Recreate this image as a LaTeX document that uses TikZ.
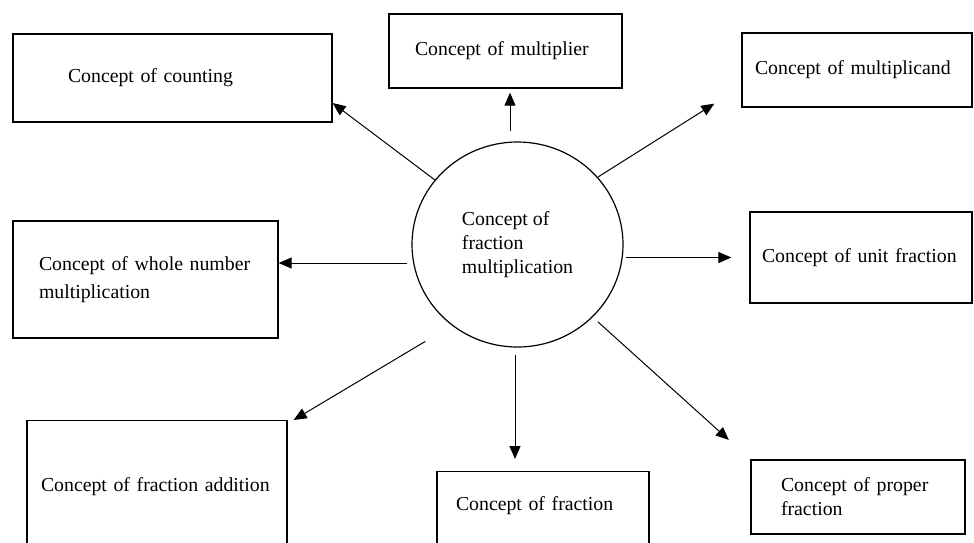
\documentclass[tikz,border=0pt]{standalone}
\usepackage{fontspec}
\setmainfont{Liberation Serif}
\usetikzlibrary{arrows.meta,shapes.geometric}
\begin{document}
\begin{tikzpicture}
  [x=1pt,y=-1pt,
   every node/.style={font=\fontsize{19.8}{23.8}\selectfont},
   concept/.style={draw,rectangle,line width=1.3pt,align=left,inner sep=0pt},
   hubnode/.style={draw,ellipse,line width=1.2pt,align=left,inner sep=0pt,minimum width=211pt,minimum height=205pt},
   arr/.style={-{Triangle[length=13pt,width=11pt]},line width=1pt}]
  \clip (0,0) rectangle (974,542);
  \node[hubnode] (hub) at (517.5,244.5) {Concept of\\fraction\\multiplication};
  \node[concept,minimum width=319pt,minimum height=88pt,text width=209pt] (count) at (172.5,78) {Concept of counting};
  \node[concept,minimum width=233pt,minimum height=74pt,text width=181pt] (mult) at (505.5,51) {Concept of multiplier};
  \node[concept,minimum width=230pt,minimum height=74pt,text width=204pt] (mcand) at (857,70) {Concept of multiplicand};
  \node[concept,minimum width=265pt,minimum height=117pt,text width=213pt] (whole) at (145.5,279.5) {Concept of whole number\\[3.6pt]multiplication};
  \node[concept,minimum width=222pt,minimum height=91pt,text width=198pt] (unit) at (861,257.5) {Concept of unit fraction};
  \node[concept,anchor=north,minimum width=260pt,minimum height=140pt,text width=232pt,text depth=11.5pt] (add) at (157,420) {Concept of fraction addition};
  \node[concept,anchor=north,minimum width=212pt,minimum height=90pt,text width=174pt,text depth=25.5pt] (frac) at (543,471) {Concept of fraction};
  \node[concept,minimum width=214pt,minimum height=74pt,text width=154pt] (proper) at (858,497) {Concept of proper\\fraction};
  \draw[arr] (hub.142) -- ([yshift=-25pt]count.east);
  \draw[arr,shorten <=10pt,shorten >=4pt] ([xshift=-7.5pt]hub.north) coordinate (m0) -- (m0 |- mult.south);
  \draw[arr] (hub.40) -- ([xshift=-27pt,yshift=4pt]mcand.south west);
  \draw[arr] ([xshift=-4pt,yshift=-18.5pt]hub.west) coordinate (w0) -- (whole.east |- w0);
  \draw[arr,shorten <=2pt,shorten >=18pt] (hub.east |- unit.west) -- (unit.west);
  \draw[arr,shorten <=31pt] (hub.231) -- ([xshift=6pt]add.north east);
  \draw[arr,shorten <=7pt,shorten >=12pt] ([xshift=-2.5pt]hub.south) coordinate (f0) -- (f0 |- frac.north);
  \draw[arr,shorten <=7pt,shorten >=29pt] (hub.316) -- (proper.north west);
\end{tikzpicture}
\end{document}
